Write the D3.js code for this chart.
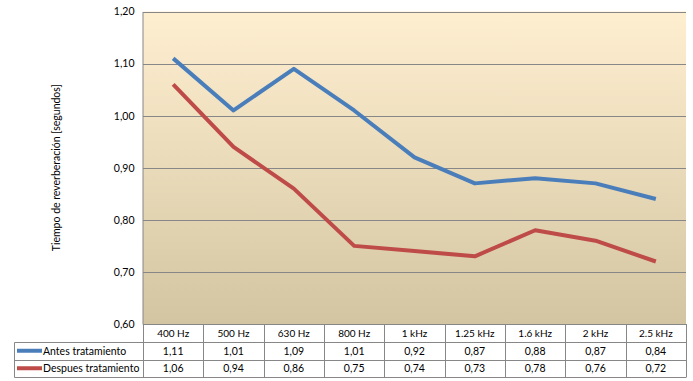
<!DOCTYPE html>
<html>
<head>
	<script src="https://cdn.jsdelivr.net/npm/d3@7"></script>
	<style>
		html, body { margin: 0; padding: 0; background: white; }
		svg { display: block; font-family: Lato, "Open Sans", sans-serif; }
	</style>
</head>
<body>
	<div id="chart"></div>
	<script>
		var categories = ["400 Hz", "500 Hz", "630 Hz", "800 Hz", "1 kHz", "1.25 kHz", "1.6 kHz", "2 kHz", "2.5 kHz"];
		var antes = [1.11, 1.01, 1.09, 1.01, 0.92, 0.87, 0.88, 0.87, 0.84];
		var despues = [1.06, 0.94, 0.86, 0.75, 0.74, 0.73, 0.78, 0.76, 0.72];
		var seriesNames = ["Antes tratamiento", "Despues tratamiento"];
		var seriesColors = ["#4a7ebb", "#be4b48"];
		var yTicks = [0.6, 0.7, 0.8, 0.9, 1.0, 1.1, 1.2];

		var width = 693, height = 381;
		// note: "top" is taken by window.top, so use other names
		var plotLeft = 143, plotRight = 686, plotTop = 11.5, plotBottom = 324;
		var rowH = 17.5;

		var svg = d3.select("#chart").append("svg")
			.attr("width", width)
			.attr("height", height);

		var defs = svg.append("defs");
		var grad = defs.append("linearGradient")
			.attr("id", "bg").attr("x1", 0).attr("y1", 0).attr("x2", 0).attr("y2", 1);
		grad.append("stop").attr("offset", "0%").attr("stop-color", "#ffefd1");
		grad.append("stop").attr("offset", "100%").attr("stop-color", "#d3c5a1");

		var x = d3.scaleBand().domain(categories).range([plotLeft, plotRight]);
		var y = d3.scaleLinear().domain([0.6, 1.2]).range([plotBottom, plotTop]);
		var fmt = function(v) { return d3.format(".2f")(v).replace(".", ","); };

		// plot background
		svg.append("rect")
			.attr("x", plotLeft).attr("y", plotTop)
			.attr("width", plotRight - plotLeft).attr("height", plotBottom - plotTop)
			.attr("fill", "url(#bg)");

		// gridlines
		svg.append("g").selectAll("line")
			.data(yTicks.slice(1))
			.enter().append("line")
			.attr("x1", plotLeft).attr("x2", plotRight)
			.attr("y1", function(d) { return Math.round(y(d)) + 0.5; })
			.attr("y2", function(d) { return Math.round(y(d)) + 0.5; })
			.attr("stroke", "#878787").attr("stroke-width", 1);

		// y axis
		var yAxis = svg.append("g")
			.attr("transform", "translate(" + (plotLeft - 0.5) + ",0)")
			.call(d3.axisLeft(y).tickValues(yTicks).tickFormat(fmt).tickSize(0).tickPadding(8));
		yAxis.select(".domain").attr("stroke", "#868686");
		yAxis.selectAll("text").attr("font-size", "10.5px").attr("fill", "#000")
			.attr("font-family", "Lato, sans-serif");

		// axis title
		svg.append("text")
			.attr("transform", "translate(60," + ((plotTop + plotBottom) / 2) + ") rotate(-90)")
			.attr("text-anchor", "middle")
			.attr("font-size", "10.5px")
			.text("Tiempo de reverberación [segundos]");

		// lines
		var line = d3.line()
			.x(function(d, i) { return x(categories[i]) + x.bandwidth() / 2; })
			.y(function(d) { return y(d); });

		[antes, despues].forEach(function(s, k) {
			svg.append("path")
				.datum(s)
				.attr("d", line)
				.attr("fill", "none")
				.attr("stroke", seriesColors[k])
				.attr("stroke-width", 4)
				.attr("stroke-linejoin", "round");
		});

		// data table
		var tbl = svg.append("g").attr("stroke", "#878787").attr("stroke-width", 1);
		var legLeft = 14.5;
		var r0 = plotBottom, r1 = plotBottom + 18, r2 = r1 + rowH, r3 = r2 + rowH;

		tbl.append("line").attr("x1", plotLeft).attr("x2", plotRight).attr("y1", r0 + 0.5).attr("y2", r0 + 0.5);
		[r1, r2, r3].forEach(function(r) {
			tbl.append("line").attr("x1", legLeft).attr("x2", plotRight)
				.attr("y1", Math.round(r) + 0.5).attr("y2", Math.round(r) + 0.5);
		});
		tbl.append("line").attr("x1", legLeft).attr("x2", legLeft)
			.attr("y1", Math.round(r1) + 0.5).attr("y2", Math.round(r3) + 0.5);
		categories.concat(["end"]).forEach(function(c, i) {
			var xx = i < categories.length ? x(c) : plotRight;
			xx = Math.round(xx) + 0.5;
			tbl.append("line").attr("x1", xx).attr("x2", xx)
				.attr("y1", r0).attr("y2", Math.round(r3) + 0.5);
		});

		// header labels
		svg.append("g").selectAll("text")
			.data(categories)
			.enter().append("text")
			.attr("x", function(d) { return x(d) + x.bandwidth() / 2; })
			.attr("y", (r0 + r1) / 2 + 4)
			.attr("text-anchor", "middle")
			.attr("font-size", "10px")
			.text(function(d) { return d; });

		// rows
		[antes, despues].forEach(function(s, k) {
			var ry = k === 0 ? r1 : r2;
			var cy = ry + rowH / 2;
			svg.append("line")
				.attr("x1", 17).attr("x2", 42)
				.attr("y1", cy).attr("y2", cy)
				.attr("stroke", seriesColors[k]).attr("stroke-width", 4);
			svg.append("text")
				.attr("x", 43).attr("y", cy + 4)
				.attr("font-size", "10.5px")
				.text(seriesNames[k]);
			svg.append("g").selectAll("text")
				.data(s)
				.enter().append("text")
				.attr("x", function(d, i) { return x(categories[i]) + x.bandwidth() / 2; })
				.attr("y", cy + 4)
				.attr("text-anchor", "middle")
				.attr("font-size", "10.5px")
				.text(function(d) { return fmt(d); });
		});
	</script>
</body>
</html>
